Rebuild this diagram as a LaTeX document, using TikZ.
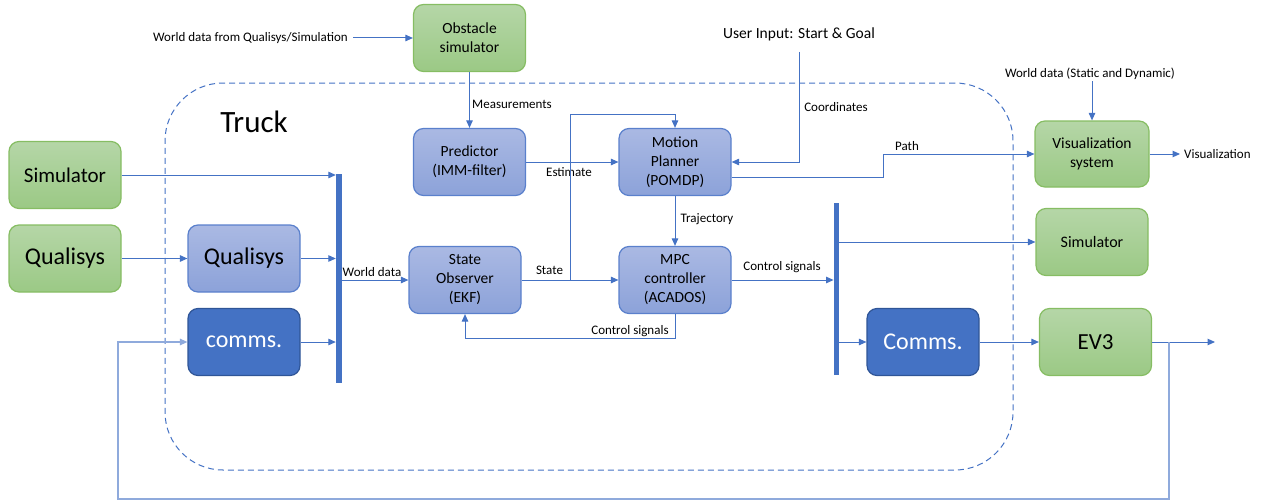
\documentclass[tikz,border=0pt]{standalone}
\usepackage{fontspec}
\setmainfont{Carlito}
\usetikzlibrary{arrows.meta}
\definecolor{lineblue}{HTML}{4472C4}
\definecolor{fbblue}{HTML}{8FAADC}
\definecolor{gT}{HTML}{B5D6A7}
\definecolor{gBot}{HTML}{9BC985}
\definecolor{gBd}{HTML}{86BD63}
\definecolor{bT}{HTML}{AAB9E3}
\definecolor{bBot}{HTML}{8CA2D9}
\definecolor{bBd}{HTML}{5A80CC}
\definecolor{dF}{HTML}{4472C4}
\definecolor{dBd}{HTML}{2F5597}
\begin{document}
\begin{tikzpicture}[x=1pt,y=-1pt,
  blk/.style={draw, rounded corners=10pt, line width=1.2pt, align=center, inner sep=0pt,
    minimum width=112pt, minimum height=67pt, font=\fontsize{15.5}{19}\selectfont},
  gblk/.style={blk, draw=gBd, top color=gT, bottom color=gBot},
  bblk/.style={blk, draw=bBd, top color=bT, bottom color=bBot},
  dblk/.style={blk, draw=dBd, fill=dF, text=white},
  bigtxt/.style={font=\fontsize{24}{28}\selectfont},
  lbl/.style={font=\fontsize{13}{15}\selectfont, inner sep=1pt},
  conn/.style={draw=lineblue, line width=1pt},
  arr/.style={conn, -{Triangle[length=7.5pt,width=6.5pt]}},
  fb/.style={draw=fbblue, line width=1.3pt, -{Triangle[length=7.5pt,width=6.5pt]}},
  busbar/.style={fill=lineblue, draw=none, inner sep=0pt, minimum width=6pt},
  truckbox/.style={draw=lineblue, line width=1pt, dash pattern=on 6pt off 4pt,
    rounded corners=58pt, inner sep=0pt}
]
\useasboundingbox (0,0) rectangle (1265,503);

% Truck boundary
\node[truckbox, minimum width=848pt, minimum height=387pt] (truck) at (589,276.5) {};
\node[font=\fontsize{31}{34}\selectfont] (trucklbl) at (254,122) {Truck};

% blocks
\node[gblk] (obs) at (469.5,38) {Obstacle\\simulator};
\node[bblk] (pred) at (469.5,162) {Predictor\\(IMM-filter)};
\node[bblk] (mp) at (675,162) {Motion\\Planner\\(POMDP)};
\node[bblk] (so) at (465,280) {State\\Observer\\(EKF)};
\node[bblk] (mpc) at (675,280) {MPC\\controller\\(ACADOS)};
\node[gblk, font=\fontsize{21}{25}\selectfont] (simL) at (65,175) {Simulator};
\node[gblk, bigtxt] (qualG) at (65,258.5) {Qualisys};
\node[bblk, bigtxt] (qualB) at (244,258.5) {Qualisys};
\node[dblk, bigtxt] (commsL) at (244,342) {comms.};
\node[dblk, bigtxt] (commsR) at (923,342) {Comms.};
\node[gblk, font=\fontsize{16}{19}\selectfont] (simR) at (1092,242) {Simulator};
\node[gblk, font=\fontsize{23}{27}\selectfont] (ev3) at (1095.5,342) {EV3};
\node[gblk, minimum width=114pt, minimum height=66pt] (vis) at (1092,154) {Visualization\\system};

% bus bars
\node[busbar, minimum height=209pt] (busL) at (339,278.5) {};
\node[busbar, minimum height=172pt, minimum width=5.5pt] (busR) at (836.5,289) {};

% free texts
\node[lbl, anchor=east, inner xsep=5pt] (wdqs) at (353,38) {World data from Qualisys/Simulation};
\node[font=\fontsize{15.5}{18}\selectfont, inner sep=1pt] (ui) at (799,34) {User Input: Start \& Goal};
\node[lbl] (wds) at (1090,74) {World data (Static and Dynamic)};
\node[lbl, anchor=west, inner xsep=4pt] (visout) at (1180,154) {Visualization};
\coordinate (out) at (1215,342);

% labels
\node[lbl] (lmeas) at (512,104) {Measurements};
\node[lbl] (lest) at (569,172) {Estimate};
\node[lbl] (lcoord) at (836,107) {Coordinates};
\node[lbl] (lpath) at (907,146) {Path};
\node[lbl] (ltraj) at (707,219) {Trajectory};
\node[lbl] (lstate) at (549.5,270) {State};
\node[lbl] (lcs1) at (782,267) {Control signals};
\node[lbl] (lcs2) at (630,331) {Control signals};
\node[lbl] (lwd) at (372,272) {World data};

% helper coordinates
\coordinate (stK) at (570,280);
\coordinate (stTop) at (570,114);
\coordinate (pathK) at (883,177);
\coordinate (csy) at (600,338);
\coordinate (fbR) at (1169,499);
\coordinate (fbL) at (118,499);

% connectors
\draw[arr] (wdqs.east) -- (obs.west);
\draw[arr] (obs.south) -- (pred.north);
\draw[arr] (pred.east) -- (mp.west);
\draw[arr] ([yshift=-10pt]ui.south) -- (ui.south |- mp.east) -- (mp.east);
\draw[arr] (wds.south -| vis.north) -- (vis.north);
\draw[arr] (vis.east) -- (visout.west);
\draw[arr] ([yshift=-15pt]mp.east) -- (pathK) -- (pathK |- vis.west) -- (vis.west);
\draw[arr] (mp.south) -- (mpc.north);
\draw[arr] (so.east) -- (mpc.west);
\draw[arr] (stK) -- (stTop) -- (stTop -| mp.north) -- (mp.north);
\draw[arr] (mpc.south) -- (mpc.south |- csy) -- (so.south |- csy) -- (so.south);
\draw[arr] (mpc.east) -- (mpc.east -| busR.west);
\draw[arr] (simL.east) -- (simL.east -| busL.west);
\draw[arr] (qualG.east) -- (qualB.west);
\draw[arr] (qualB.east) -- (qualB.east -| busL.west);
\draw[arr] (commsL.east) -- (commsL.east -| busL.west);
\draw[arr] (busL.east |- so.west) -- (so.west);
\draw[arr] (busR.east |- simR.west) -- (simR.west);
\draw[arr] (busR.east |- commsR.west) -- (commsR.west);
\draw[arr] (commsR.east) -- (ev3.west);
\draw[arr] (ev3.east) -- (out);
\draw[fb] (ev3.east -| fbR) -- (fbR) -- (fbL) -- (fbL |- commsL.west) -- (commsL.west);
\end{tikzpicture}
\end{document}
